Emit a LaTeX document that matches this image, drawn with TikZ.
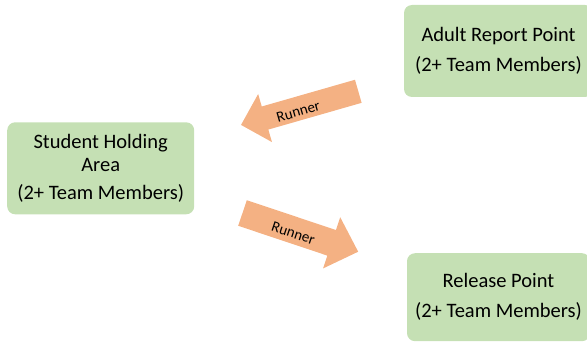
\documentclass[tikz,border=0pt]{standalone}
\usepackage{fontspec}
\setmainfont{Carlito}
\definecolor{boxgreen}{HTML}{C5E0B4}
\definecolor{runnerorange}{HTML}{F4B183}
\begin{document}
\begin{tikzpicture}[x=1pt,y=1pt,
  area/.style={fill=boxgreen, rounded corners=8pt, align=center, inner sep=0pt,
    font=\fontsize{20.5}{23.3}\selectfont},
  runnerfill/.style={fill=runnerorange},
  runnerlabel/.style={font=\fontsize{15}{18}\selectfont, inner sep=0pt}]
\useasboundingbox (0,0) rectangle (587,343);
\node[area, minimum width=189pt, minimum height=92pt] (adult) at (498.5,292)
  {Adult Report Point\\[6.7pt](2+ Team Members)};
\node[area, minimum width=187pt, minimum height=92pt] (student) at (100.7,174.7)
  {Student Holding\\Area\\[4.7pt](2+ Team Members)};
\node[area, minimum width=183pt, minimum height=88pt] (release) at (498.5,45.8)
  {Release Point\\[6.7pt](2+ Team Members)};
% upper runner arrow (towards student area)
\begin{scope}[shift={(358.3,251.7)}, rotate=196]
  \fill[runnerfill] (0,-12) -- (97,-12) -- (97,-25) -- (122,0) -- (97,25) -- (97,12) -- (0,12) -- cycle;
\end{scope}
\node[runnerlabel, rotate=16] (r1) at (298.3,231.3) {Runner};
% lower runner arrow (towards release point)
\begin{scope}[shift={(242.5,130)}, rotate=-18.5]
  \fill[runnerfill] (0,-13.5) -- (94,-13.5) -- (94,-27) -- (122,0) -- (94,27) -- (94,13.5) -- (0,13.5) -- cycle;
\end{scope}
\node[runnerlabel, rotate=-18.5] (r2) at (293.3,109.7) {Runner};
\end{tikzpicture}
\end{document}
